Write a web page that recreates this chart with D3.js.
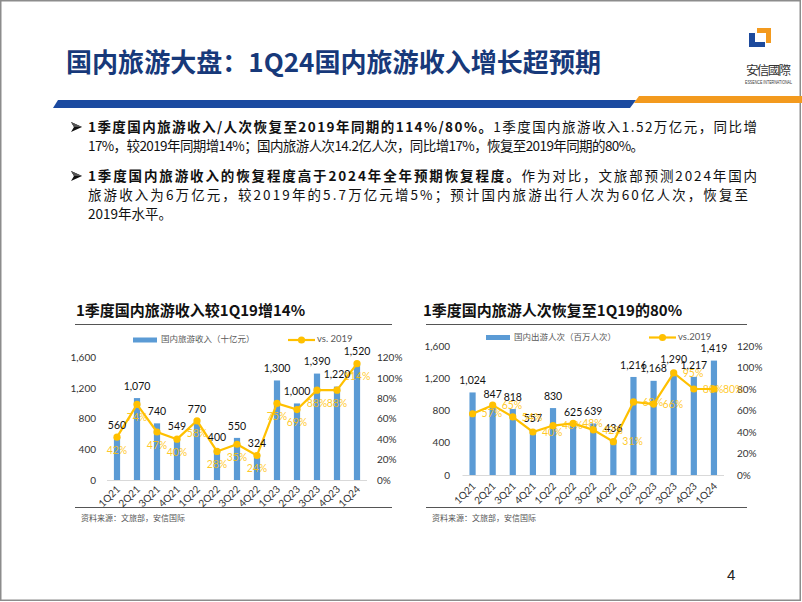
<!DOCTYPE html>
<html><head><meta charset="utf-8">
<script src="https://cdn.jsdelivr.net/npm/d3@7/dist/d3.min.js"></script>
<style>
html,body{margin:0;padding:0;background:#fff;}
svg{display:block;}
</style></head>
<body><div id="chart"></div>
<script>
// ---------------- DATA ----------------
const quarters = ["1Q21","2Q21","3Q21","4Q21","1Q22","2Q22","3Q22","4Q22","1Q23","2Q23","3Q23","4Q23","1Q24"];
const revenue = [560,1070,740,549,770,400,550,324,1300,1000,1390,1220,1520];
const revenuePct = [42,74,47,40,58,28,35,24,75,69,88,88,114];
const trips = [1024,847,818,557,830,625,639,436,1216,1168,1290,1217,1419];
const tripsPct = [57,65,54,40,46,48,42,31,68,66,95,80,80];
const leftTicks = [0,400,800,1200,1600];
const rightTicks = [0,20,40,60,80,100,120];

const W = 802, H = 602;
const BLUE = "#5B9BD5", GOLD = "#FFC000", NAVY = "#17397a";
const CJK = "'Noto Sans CJK SC', sans-serif";
const NUM = "Lato, 'Noto Sans', sans-serif";

const svg = d3.select("#chart").append("svg").attr("width", W).attr("height", H);

// frame
svg.append("rect").attr("x",0.75).attr("y",0.75).attr("width",799.5).attr("height",599.5)
  .attr("fill","#fff").attr("stroke","#8c8c8c").attr("stroke-width",1.5);

// header title
svg.append("text").attr("x",66).attr("y",72).attr("font-family",CJK).attr("font-weight",700)
  .attr("font-size",26).attr("fill",NAVY).attr("textLength",535).attr("lengthAdjust","spacingAndGlyphs")
  .text("国内旅游大盘：1Q24国内旅游收入增长超预期");

// header band
svg.append("polygon").attr("points","58,100 636,100 630,108 53,108").attr("fill","#1b4aa0");
svg.append("polygon").attr("points","639,96 802,96 802,103 634,103").attr("fill","#f39a1e");

// logo
svg.append("polygon").attr("points","749,33 755,33 755,42 765,42 765,47 749,47").attr("fill","#1d4a9c");
svg.append("polygon").attr("points","757,28 771,28 771,43 766,43 766,33 757,33").attr("fill","#f39a1e");
svg.append("text").attr("x",746).attr("y",75).attr("font-family",CJK).attr("font-size",12.5)
  .attr("fill","#333").attr("textLength",45).text("安信國際");
svg.append("text").attr("x",745).attr("y",84).attr("font-family","'Liberation Sans',sans-serif").attr("font-size",4.5)
  .attr("fill","#333").attr("textLength",47).attr("lengthAdjust","spacingAndGlyphs").text("ESSENCE INTERNATIONAL");

// bullets
const bulletLines = [
  {y:132, arrow:true, parts:[["1季度国内旅游收入/人次恢复至2019年同期的114%/80%。",700],["1季度国内旅游收入1.52万亿元，同比增",400]], len:669},
  {y:151, parts:[["17%，较2019年同期增14%；国内旅游人次14.2亿人次，同比增17%，恢复至2019年同期的80%。",400]], len:556},
  {y:181, arrow:true, parts:[["1季度国内旅游收入的恢复程度高于2024年全年预期恢复程度。",700],["作为对比，文旅部预测2024年国内",400]], len:669},
  {y:200, parts:[["旅游收入为6万亿元，较2019年的5.7万亿元增5%；预计国内旅游出行人次为60亿人次，恢复至",400]], len:660},
  {y:219, parts:[["2019年水平。",400]], len:null}
];
bulletLines.forEach(l => {
  if (l.arrow) {
    const ay = l.y - 5;
    // bullet arrowhead (decorative marker)
    svg.append("path").attr("d",`M71,${ay-5} L82,${ay} L71,${ay+5} L74,${ay} Z`).attr("fill","#111");
    svg.append("path").attr("d",`M71,${ay-5} L82,${ay} L74,${ay} Z`).attr("fill","#555");
  }
  const t = svg.append("text").attr("x",88).attr("y",l.y).attr("font-family",CJK)
    .attr("font-size",13.5).attr("fill","#111");
  if (l.len) t.attr("textLength",l.len);
  l.parts.forEach(p => t.append("tspan").attr("font-weight",p[1]).text(p[0]));
});

// page number
svg.append("text").attr("x",727).attr("y",580).attr("font-family","'Liberation Sans',sans-serif")
  .attr("font-size",15).attr("fill","#222").text("4");

// ---------------- CHART FUNCTION ----------------
function drawChart(cfg) {
  const g = svg.append("g");
  // title
  g.append("text").attr("x",cfg.titleX).attr("y",316).attr("font-family",CJK).attr("font-weight",700)
    .attr("font-size",15).attr("fill","#111").text(cfg.title);
  g.append("line").attr("x1",cfg.lineX1).attr("x2",cfg.lineX2).attr("y1",324.5).attr("y2",324.5)
    .attr("stroke","#555").attr("stroke-width",1.2);
  g.append("line").attr("x1",cfg.lineX1).attr("x2",cfg.lineX2).attr("y1",507.5).attr("y2",507.5)
    .attr("stroke","#555").attr("stroke-width",1.2);
  g.append("text").attr("x",cfg.lineX1+6).attr("y",521).attr("font-family",CJK).attr("font-size",8)
    .attr("fill","#555").text("资料来源：文旅部，安信国际");

  const x = d3.scaleBand().domain(quarters).range([cfg.x0, cfg.x1]);
  const yL = d3.scaleLinear().domain([0,1600]).range([cfg.yBase, cfg.yTop]);
  const yR = d3.scaleLinear().domain([0,120]).range([cfg.yBase, cfg.yTop]);
  const cx = q => x(q) + x.bandwidth()/2;

  // axes
  const axL = d3.axisLeft(yL).tickValues(leftTicks).tickSize(0).tickPadding(0).tickFormat(d3.format(","));
  const gl = g.append("g").attr("transform",`translate(${cfg.leftLabelX},0)`).call(axL);
  gl.select(".domain").remove();
  gl.selectAll("text").attr("font-family",NUM).attr("font-size",10).attr("fill","#333");

  const axR = d3.axisRight(yR).tickValues(rightTicks).tickSize(0).tickPadding(0).tickFormat(d => d + "%");
  const gr = g.append("g").attr("transform",`translate(${cfg.rightLabelX},0)`).call(axR);
  gr.select(".domain").remove();
  gr.selectAll("text").attr("font-family",NUM).attr("font-size",10).attr("fill","#333");

  // baseline
  g.append("line").attr("x1",cfg.x0).attr("x2",cfg.x1).attr("y1",cfg.yBase+0.5).attr("y2",cfg.yBase+0.5)
    .attr("stroke","#d9d9d9").attr("stroke-width",1);

  // bars
  const bw = 6.2;
  g.selectAll(".bar").data(cfg.bars).join("rect")
    .attr("x",(d,i) => cx(quarters[i]) - bw/2).attr("width",bw)
    .attr("y",d => yL(d)).attr("height",d => cfg.yBase - yL(d)).attr("fill",BLUE);

  // line
  const line = d3.line().x((d,i) => cx(quarters[i])).y(d => yR(d));
  g.append("path").datum(cfg.pct).attr("d",line).attr("fill","none").attr("stroke",GOLD).attr("stroke-width",2.2);
  g.selectAll(".pt").data(cfg.pct).join("circle")
    .attr("cx",(d,i) => cx(quarters[i])).attr("cy",d => yR(d)).attr("r",3.6).attr("fill",GOLD);

  // bar labels
  g.selectAll(".bl").data(cfg.bars).join("text")
    .attr("x",(d,i) => cx(quarters[i])).attr("y",d => yL(d) - 11).attr("text-anchor","middle")
    .attr("dominant-baseline","middle").attr("font-family",NUM).attr("font-size",10.5).attr("fill","#111")
    .text(d => d3.format(",")(d));

  // line labels
  g.selectAll(".ll").data(cfg.pct).join("text")
    .attr("x",(d,i) => cx(quarters[i]) + cfg.pctDx).attr("y",d => yR(d) + cfg.pctDy)
    .attr("text-anchor",cfg.pctAnchor).attr("dominant-baseline","middle")
    .attr("font-family",NUM).attr("font-size",10.5).attr("fill",GOLD).attr("fill-opacity",0.85)
    .text(d => d + "%");

  // x labels
  g.selectAll(".xl").data(quarters).join("text")
    .attr("transform",q => `translate(${cx(q)+2},${cfg.yBase+cfg.xlDy}) rotate(-45)`)
    .attr("text-anchor","end").attr("dominant-baseline","middle")
    .attr("font-family",NUM).attr("font-size",10).attr("fill","#333").text(q => q);

  // legend
  const ly = cfg.legendY;
  g.append("rect").attr("x",cfg.legX).attr("y",ly-2.5).attr("width",24).attr("height",5).attr("fill",BLUE);
  g.append("text").attr("x",cfg.legX+28).attr("y",ly).attr("dominant-baseline","middle")
    .attr("font-family",CJK).attr("font-size",8.5).attr("fill","#595959").text(cfg.legBar);
  g.append("line").attr("x1",cfg.legLX).attr("x2",cfg.legLX+27).attr("y1",ly).attr("y2",ly)
    .attr("stroke",GOLD).attr("stroke-width",2.2);
  g.append("circle").attr("cx",cfg.legLX+13.5).attr("cy",ly).attr("r",3.6).attr("fill",GOLD);
  g.append("text").attr("x",cfg.legLX+29).attr("y",ly).attr("dominant-baseline","middle")
    .attr("font-family",NUM).attr("font-size",9.5).attr("fill","#595959").text(cfg.legLine);
}

drawChart({
  title:"1季度国内旅游收入较1Q19增14%", titleX:76, lineX1:75, lineX2:392,
  x0:107, x1:367, yBase:480, yTop:357.5, leftLabelX:96, rightLabelX:377,
  bars:revenue, pct:revenuePct, pctDx:0, pctDy:14, pctAnchor:"middle", xlDy:8,
  legendY:340, legX:133, legLX:288, legBar:"国内旅游收入（十亿元）", legLine:"vs. 2019"
});
drawChart({
  title:"1季度国内旅游人次恢复至1Q19的80%", titleX:423, lineX1:426, lineX2:747,
  x0:462.5, x1:724, yBase:475, yTop:346, leftLabelX:450, rightLabelX:737,
  bars:trips, pct:tripsPct, pctDx:9, pctDy:1, pctAnchor:"start", xlDy:10,
  legendY:337.5, legX:486, legLX:649, legBar:"国内出游人次（百万人次）", legLine:"vs.2019"
});
</script></body></html>
